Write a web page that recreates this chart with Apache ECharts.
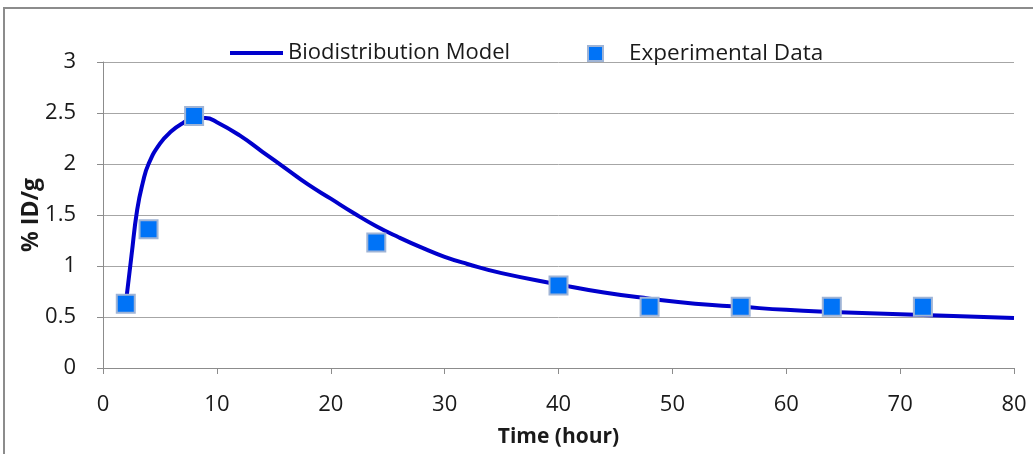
<!DOCTYPE html>
<html>
<head>
<meta charset="utf-8">
<script src="https://cdn.jsdelivr.net/npm/echarts@6/dist/echarts.min.js"></script>
<style>
  html, body { margin: 0; padding: 0; background: #fff; }
  #chart { width: 1033px; height: 454px; }
</style>
</head>
<body>
<div id="chart"></div>
<script>
// model curve (time in hours, %ID/g)
const modelTime = [2, 2.5, 3, 3.5, 4, 5, 6, 7, 8, 9, 10, 12, 14, 16, 18, 20, 22, 24, 26, 28, 30, 32, 35, 40, 44, 48, 52, 56, 60, 64, 68, 72, 76, 80]
const modelValue = [0.63, 1.1, 1.55, 1.82, 2.0, 2.2, 2.32, 2.4, 2.45, 2.45, 2.41, 2.28, 2.12, 1.96, 1.8, 1.66, 1.52, 1.39, 1.28, 1.18, 1.09, 1.02, 0.93, 0.82, 0.74, 0.68, 0.63, 0.6, 0.57, 0.55, 0.535, 0.52, 0.505, 0.49]

// experimental points
const expTime = [2, 4, 8, 24, 40, 48, 56, 64, 72]
const expValue = [0.63, 1.36, 2.47, 1.23, 0.81, 0.6, 0.6, 0.6, 0.6]

const FONT = "'Open Sans', sans-serif"
const TEXT = '#1a1a1a'

const chart = echarts.init(document.getElementById('chart'))

chart.setOption({
  backgroundColor: '#fff',
  animation: false,
  graphic: [{
    type: 'rect',
    shape: { x: 4, y: 8, width: 1060, height: 480 },
    style: { fill: 'none', stroke: '#8c8c8c', lineWidth: 2 },
    silent: true
  }],
  legend: [
    {
      data: [{ name: 'Biodistribution Model', icon: 'rect' }],
      left: 225,
      top: 37,
      itemWidth: 53,
      itemHeight: 4,
      textStyle: { fontFamily: FONT, fontSize: 22, color: TEXT }
    },
    {
      data: [{ name: 'Experimental Data', icon: 'rect' }],
      left: 582,
      top: 37,
      itemWidth: 15,
      itemHeight: 15,
      textStyle: { fontFamily: FONT, fontSize: 22.5, color: TEXT, padding: [0, 0, 0, 21] }
    }
  ],
  grid: {
    left: 103,
    right: 19,
    top: 62,
    bottom: 86
  },
  xAxis: {
    type: 'value',
    min: 0,
    max: 80,
    interval: 10,
    name: 'Time (hour)',
    nameLocation: 'middle',
    nameGap: 59,
    nameTextStyle: { fontFamily: FONT, fontSize: 21, fontWeight: 'bold', color: TEXT },
    axisLine: { lineStyle: { color: '#8c8c8c' } },
    axisTick: { show: true, length: 6, lineStyle: { color: '#8c8c8c' } },
    axisLabel: { fontFamily: FONT, fontSize: 22, color: TEXT, margin: 26 },
    splitLine: { show: false }
  },
  yAxis: {
    type: 'value',
    min: 0,
    max: 3,
    interval: 0.5,
    name: '% ID/g',
    nameLocation: 'middle',
    nameGap: 60,
    nameMoveOverlap: false,
    nameTextStyle: { fontFamily: FONT, fontSize: 23, fontWeight: 'bold', color: TEXT },
    axisLine: { show: true, lineStyle: { color: '#8c8c8c' } },
    axisTick: { show: true, length: 6, lineStyle: { color: '#8c8c8c' } },
    axisLabel: { fontFamily: FONT, fontSize: 22, color: TEXT, margin: 27 },
    splitLine: { lineStyle: { color: '#a6a6a6', width: 1 } }
  },
  series: [
    {
      name: 'Biodistribution Model',
      type: 'line',
      smooth: true,
      symbol: 'none',
      data: modelTime.map((t, i) => [t, modelValue[i]]),
      itemStyle: { color: '#0000cc' },
      lineStyle: { color: '#0000cc', width: 4 },
      z: 2
    },
    {
      name: 'Experimental Data',
      type: 'scatter',
      symbol: 'rect',
      symbolSize: 18,
      data: expTime.map((t, i) => [t, expValue[i]]),
      itemStyle: { color: '#0073f7', borderColor: '#9fb4d6', borderWidth: 2, opacity: 1 },
      z: 3
    }
  ]
})
</script>
</body>
</html>
